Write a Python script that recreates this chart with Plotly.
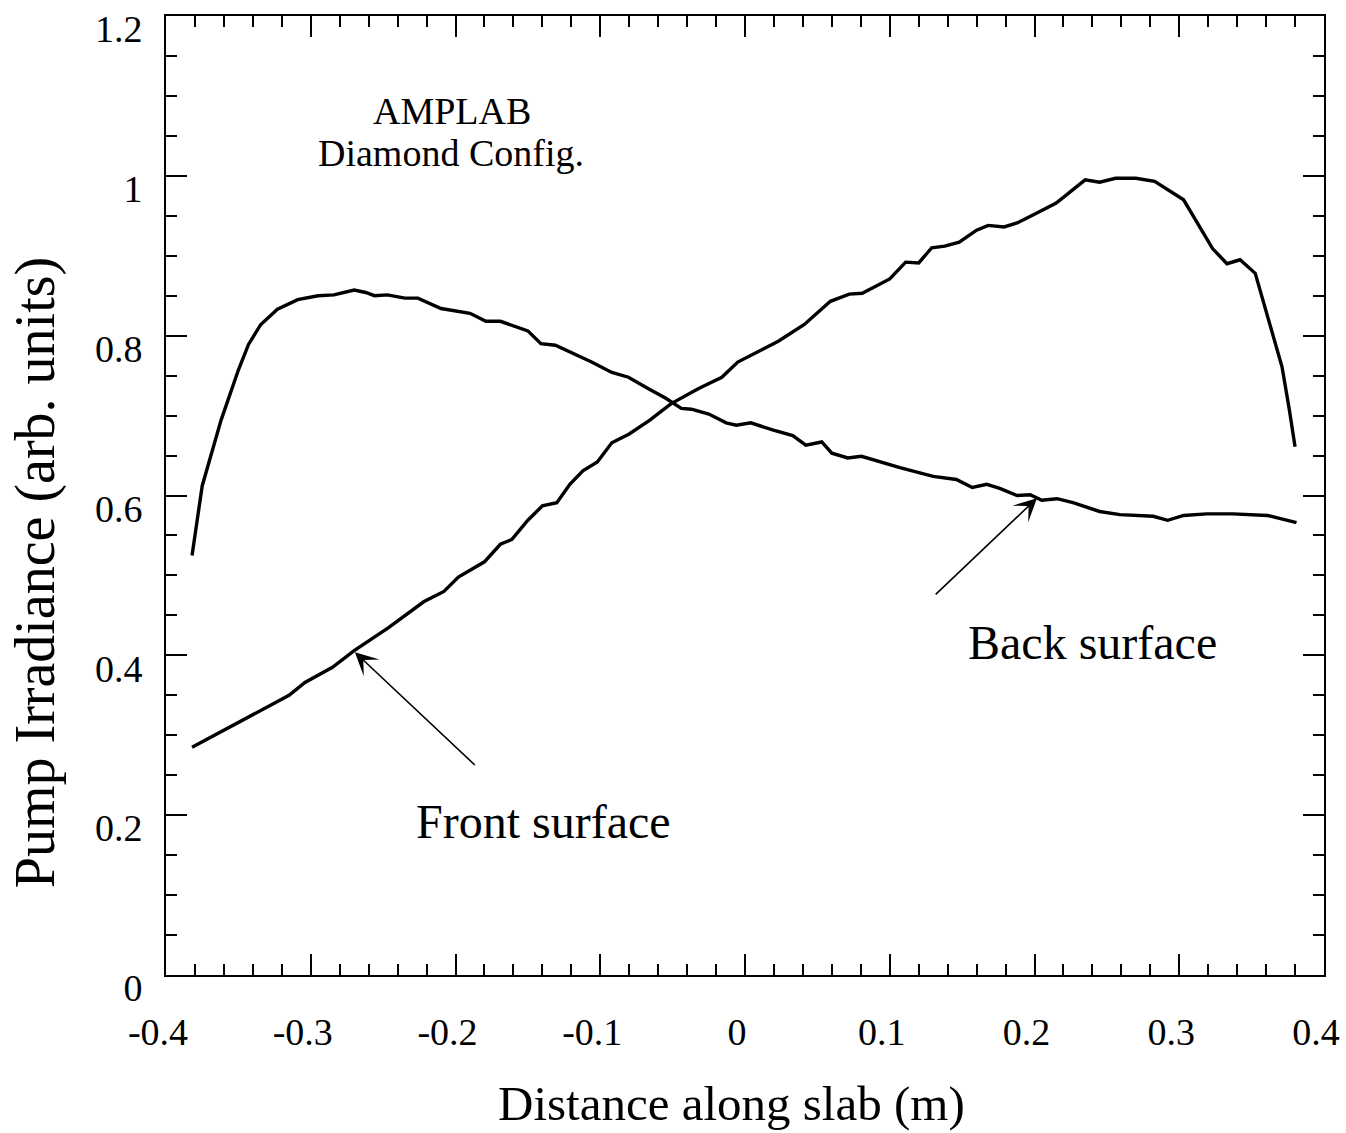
import plotly.graph_objects as go

# ---------------- data ----------------
front_x = [-0.382, -0.347, -0.315, -0.304, -0.285, -0.270, -0.246, -0.222, -0.208, -0.198,
           -0.180, -0.169, -0.161, -0.150, -0.140, -0.130, -0.121, -0.112, -0.102, -0.092,
           -0.080, -0.066, -0.051, -0.032, -0.016, -0.005, 0.023, 0.041, 0.059, 0.072,
           0.081, 0.100, 0.111, 0.120, 0.129, 0.138, 0.148, 0.160, 0.168, 0.179,
           0.188, 0.201, 0.215, 0.224, 0.235, 0.245, 0.256, 0.270, 0.283, 0.303,
           0.312, 0.323, 0.333, 0.342, 0.3525, 0.361, 0.371, 0.376, 0.380]
front_y = [0.285, 0.319, 0.350, 0.366, 0.385, 0.406, 0.435, 0.467, 0.480, 0.498,
           0.517, 0.539, 0.545, 0.569, 0.587, 0.591, 0.614, 0.631, 0.642, 0.666,
           0.677, 0.694, 0.715, 0.734, 0.748, 0.767, 0.793, 0.814, 0.843, 0.852,
           0.853, 0.871, 0.892, 0.891, 0.910, 0.912, 0.917, 0.932, 0.938, 0.936,
           0.941, 0.953, 0.966, 0.979, 0.995, 0.992, 0.997, 0.997, 0.993, 0.970,
           0.942, 0.909, 0.890, 0.895, 0.878, 0.824, 0.761, 0.708, 0.661]

back_x = [-0.382, -0.375, -0.362, -0.350, -0.343, -0.3345, -0.323, -0.309, -0.295, -0.284,
          -0.270, -0.262, -0.256, -0.247, -0.235, -0.226, -0.210, -0.190, -0.179, -0.169,
          -0.150, -0.141, -0.131, -0.120, -0.106, -0.092, -0.0805, -0.067, -0.055, -0.044,
          -0.037, -0.025, -0.013, -0.006, 0.004, 0.019, 0.033, 0.042, 0.053, 0.060,
          0.071, 0.0805, 0.093, 0.107, 0.130, 0.146, 0.157, 0.167, 0.176, 0.188,
          0.197, 0.205, 0.2155, 0.2266, 0.245, 0.259, 0.282, 0.292, 0.303, 0.319,
          0.337, 0.361, 0.381]
back_y = [0.525, 0.612, 0.694, 0.757, 0.789, 0.814, 0.833, 0.845, 0.850, 0.851,
          0.857, 0.854, 0.850, 0.851, 0.847, 0.847, 0.834, 0.828, 0.818, 0.818,
          0.806, 0.790, 0.788, 0.779, 0.767, 0.754, 0.748, 0.734, 0.722, 0.709,
          0.708, 0.702, 0.691, 0.688, 0.691, 0.682, 0.675, 0.663, 0.667, 0.653,
          0.647, 0.649, 0.642, 0.635, 0.624, 0.620, 0.610, 0.614, 0.609, 0.600,
          0.601, 0.594, 0.596, 0.591, 0.580, 0.576, 0.574, 0.569, 0.575, 0.577,
          0.577, 0.575, 0.566]

x_tick_vals = [-0.4, -0.3, -0.2, -0.1, 0.0, 0.1, 0.2, 0.3, 0.4]
x_tick_labels = ["-0.4", "-0.3", "-0.2", "-0.1", "0", "0.1", "0.2", "0.3", "0.4"]
y_tick_vals = [0, 0.2, 0.4, 0.6, 0.8, 1.0, 1.2]
y_tick_labels = ["0", "0.2", "0.4", "0.6", "0.8", "1", "1.2"]

x_title = "Distance along slab (m)"
y_title = "Pump Irradiance (arb. units)"
label_front = "Front surface"
label_back = "Back surface"
note_line1 = "AMPLAB"
note_line2 = "Diamond Config."

FONT = "Liberation Serif, Times New Roman, serif"

fig = go.Figure()
fig.add_trace(go.Scatter(x=front_x, y=front_y, mode="lines",
                         line=dict(color="black", width=3.4), name=label_front,
                         showlegend=False))
fig.add_trace(go.Scatter(x=back_x, y=back_y, mode="lines",
                         line=dict(color="black", width=3.4), name=label_back,
                         showlegend=False))

axis_common = dict(
    showgrid=False, zeroline=False, showline=True, linecolor="black", linewidth=2,
    mirror="allticks", ticks="inside", tickcolor="black", tickwidth=2, ticklen=21,
    tickfont=dict(family=FONT, size=38, color="black"),
    ticklabeloverflow="allow", automargin=False,
)

fig.update_xaxes(
    range=[-0.4, 0.4], tickmode="array", tickvals=x_tick_vals, ticktext=x_tick_labels,
    ticklabelstandoff=22, ticklabelshift=-8,
    minor=dict(tickmode="linear", tick0=-0.4, dtick=0.02, ticks="inside",
               ticklen=11, tickwidth=2, tickcolor="black"),
    **axis_common,
)
fig.update_yaxes(
    range=[0, 1.2], tickmode="array", tickvals=y_tick_vals, ticktext=y_tick_labels,
    ticklabelstandoff=14, ticklabelshift=13,
    minor=dict(tickmode="linear", tick0=0, dtick=0.05, ticks="inside",
               ticklen=11, tickwidth=2, tickcolor="black"),
    **axis_common,
)

annotations = [
    # arrows
    dict(x=-0.2695, y=0.404, ax=-0.1856, ay=0.261, xref="x", yref="y", axref="x", ayref="y",
         text="", showarrow=True, arrowhead=3, arrowsize=2.4, arrowwidth=1.6,
         arrowcolor="black", standoff=0),
    dict(x=0.2017, y=0.5967, ax=0.1307, ay=0.4746, xref="x", yref="y", axref="x", ayref="y",
         text="", showarrow=True, arrowhead=3, arrowsize=2.4, arrowwidth=1.6,
         arrowcolor="black", standoff=0),
    # labels
    dict(x=-0.139, y=0.1925, xref="x", yref="y", text=label_front, showarrow=False,
         font=dict(family=FONT, size=48, color="black"), xanchor="center", yanchor="middle"),
    dict(x=0.240, y=0.4157, xref="x", yref="y", text=label_back, showarrow=False,
         font=dict(family=FONT, size=48, color="black"), xanchor="center", yanchor="middle"),
    dict(x=-0.2023, y=1.0815, xref="x", yref="y", text=note_line1, showarrow=False,
         font=dict(family=FONT, size=38, color="black"), xanchor="center", yanchor="middle"),
    dict(x=-0.2034, y=1.028, xref="x", yref="y", text=note_line2, showarrow=False,
         font=dict(family=FONT, size=38, color="black"), xanchor="center", yanchor="middle"),
    # axis titles
    dict(x=0.488, y=-0.1335, xref="paper", yref="paper", text=x_title, showarrow=False,
         font=dict(family=FONT, size=49, color="black"), xanchor="center", yanchor="middle"),
    dict(x=-0.1131, y=0.419, xref="paper", yref="paper", text=y_title, showarrow=False,
         textangle=-90, font=dict(family=FONT, size=56, color="black"),
         xanchor="center", yanchor="middle"),
]

fig.update_layout(
    width=1346, height=1133,
    margin=dict(l=166, r=22, t=16, b=158, autoexpand=False),
    paper_bgcolor="white", plot_bgcolor="white",
    annotations=annotations,
    showlegend=False,
)

fig.write_html("out.html",
               config={"displayModeBar": False},
               post_script="document.body.style.margin='0';document.body.style.overflow='hidden';")
